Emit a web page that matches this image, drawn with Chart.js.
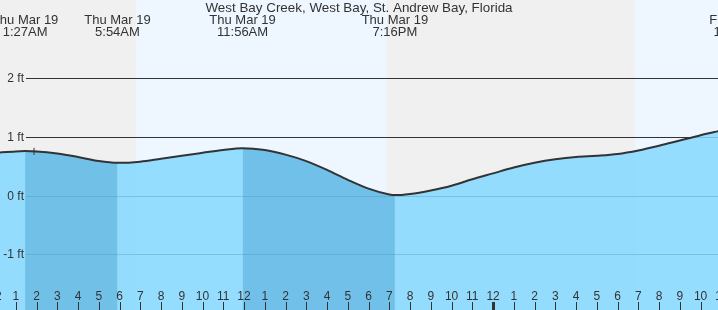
<!DOCTYPE html>
<html>
<head>
<meta charset="utf-8">
<script src="https://cdn.jsdelivr.net/npm/chart.js@4.4.0/dist/chart.umd.min.js"></script>
<style>
  html, body { margin: 0; padding: 0; background: #ffffff; }
  #wrap { width: 718px; height: 310px; position: relative; }
</style>
</head>
<body>
<div id="wrap"><canvas id="c" width="718" height="310"></canvas></div>
<script>
// ---- data (hours since midnight Thu Mar 19) ----
const title = 'West Bay Creek, West Bay, St. Andrew Bay, Florida';
const hours   = [0, 1, 1.45, 2, 3, 4, 5, 5.9, 7, 8, 9, 10, 11, 11.93, 13, 14, 15, 16, 17, 18, 19, 19.27, 20, 21, 22, 23, 24, 25, 26, 27, 28, 29, 30, 31, 32, 33, 34, 35];
const heights = [0.73, 0.755, 0.76, 0.755, 0.72, 0.66, 0.59, 0.56, 0.58, 0.63, 0.68, 0.73, 0.78, 0.81, 0.78, 0.70, 0.59, 0.44, 0.27, 0.12, 0.02, 0.01, 0.03, 0.09, 0.17, 0.28, 0.38, 0.48, 0.56, 0.62, 0.66, 0.68, 0.71, 0.77, 0.85, 0.94, 1.03, 1.11];
const eventHours = [1.45, 5.9, 11.93, 19.27, 35.85];
const eventDates = ['Thu Mar 19', 'Thu Mar 19', 'Thu Mar 19', 'Thu Mar 19', 'Fri Mar 20'];
const eventTimes = ['1:27AM', '5:54AM', '11:56AM', '7:16PM', '11:51AM'];
const fallingStart = [1.45, 11.93];
const fallingEnd   = [5.9, 19.27];
const nightStart = [-1, 18.89];
const nightEnd   = [6.78, 30.83];
const yTickValues = [2, 1, 0, -1];
const yTickLabels = ['2 ft', '1 ft', '0 ft', '-1 ft'];
const hourTicks = [0,1,2,3,4,5,6,7,8,9,10,11,12,13,14,15,16,17,18,19,20,21,22,23,24,25,26,27,28,29,30,31,32,33,34,35];
const hourLabels = hourTicks.map(h => String(((h + 11) % 12) + 1));
const nowHour = 1.88;
const nowHeight = 0.755;

// ---- styles ----
const FAMILY = '"Liberation Sans", Arial, sans-serif';
const TXT = '#333333';
const NIGHT = '#f0f0f0';
const DAY = '#eef7ff';
const WATER = 'rgba(133,216,255,0.86)';
const WATER_OVER = 'rgba(60,150,200,0.4)';
const NONE = 'rgba(0,0,0,0)';

function isFalling(x0, x1) {
  for (let i = 0; i < fallingStart.length; i++) {
    if (x0 >= fallingStart[i] - 1e-6 && x1 <= fallingEnd[i] + 1e-6) return true;
  }
  return false;
}

const tidePlugin = {
  id: 'tide',
  beforeDraw(chart) {
    const {ctx, scales: {x, y}} = chart;
    const W = chart.width, H = chart.height;
    ctx.save();
    ctx.fillStyle = DAY;
    ctx.fillRect(0, 0, W, H);
    ctx.fillStyle = NIGHT;
    for (let i = 0; i < nightStart.length; i++) {
      const a = Math.round(x.getPixelForValue(nightStart[i]));
      const b = Math.round(x.getPixelForValue(nightEnd[i]));
      ctx.fillRect(a, 0, b - a, H);
    }
    ctx.strokeStyle = '#333333';
    ctx.lineWidth = 1;
    for (const v of yTickValues) {
      const py = Math.round(y.getPixelForValue(v)) + 0.5;
      ctx.beginPath();
      ctx.moveTo(26, py);
      ctx.lineTo(W, py);
      ctx.stroke();
    }
    ctx.restore();
  },
  afterDatasetsDraw(chart) {
    const {ctx, scales: {x, y}} = chart;
    const W = chart.width;
    ctx.save();
    ctx.fillStyle = TXT;
    // y labels
    ctx.font = '12px ' + FAMILY;
    ctx.textAlign = 'right';
    ctx.textBaseline = 'middle';
    yTickValues.forEach((v, i) => {
      ctx.fillText(yTickLabels[i], 24, y.getPixelForValue(v) + 0.5);
    });
    // hour ticks and labels
    ctx.textAlign = 'center';
    ctx.textBaseline = 'alphabetic';
    hourTicks.forEach((h, i) => {
      const px = x.getPixelForValue(h);
      ctx.fillText(hourLabels[i], px, 300);
      if (h % 24 === 0) {
        ctx.fillRect(Math.round(px) - 1, 302, 3, 8);
      } else {
        ctx.fillRect(Math.round(px), 302, 1, 8);
      }
    });
    // title and event labels
    ctx.font = '13.4px ' + FAMILY;
    ctx.fillText(title, W / 2, 12);
    ctx.font = '13px ' + FAMILY;
    eventHours.forEach((h, i) => {
      const px = x.getPixelForValue(h);
      ctx.fillText(eventDates[i], px, 24);
      ctx.fillText(eventTimes[i], px, 36);
    });
    ctx.restore();
  }
};

const tidePoints = hours.map((h, i) => ({x: h, y: heights[i]}));

new Chart(document.getElementById('c'), {
  type: 'line',
  data: {
    datasets: [
      {
        label: 'now',
        type: 'scatter',
        data: [{x: nowHour, y: nowHeight}],
        pointStyle: 'cross',
        pointRadius: 3.5,
        borderColor: '#333333',
        borderWidth: 1,
        showLine: false,
        order: 0
      },
      {
        label: 'falling',
        data: tidePoints,
        borderWidth: 0,
        borderColor: NONE,
        pointRadius: 0,
        cubicInterpolationMode: 'monotone',
        fill: 'start',
        backgroundColor: NONE,
        segment: {
          backgroundColor: c => isFalling(c.p0.parsed.x, c.p1.parsed.x) ? WATER_OVER : NONE
        },
        order: 1
      },
      {
        label: 'tide',
        data: tidePoints,
        borderColor: '#333333',
        borderWidth: 2,
        pointRadius: 0,
        cubicInterpolationMode: 'monotone',
        fill: 'start',
        backgroundColor: WATER,
        order: 2
      }
    ]
  },
  options: {
    responsive: false,
    animation: false,
    layout: { padding: 0, autoPadding: false },
    plugins: {
      legend: { display: false },
      tooltip: { enabled: false },
      title: { display: false },
      filler: { drawTime: 'beforeDatasetsDraw' }
    },
    scales: {
      x: { type: 'linear', min: 0.24, max: 34.84, display: false },
      y: { min: -1.947, max: 3.334, display: false }
    }
  },
  plugins: [tidePlugin]
});
</script>
</body>
</html>
